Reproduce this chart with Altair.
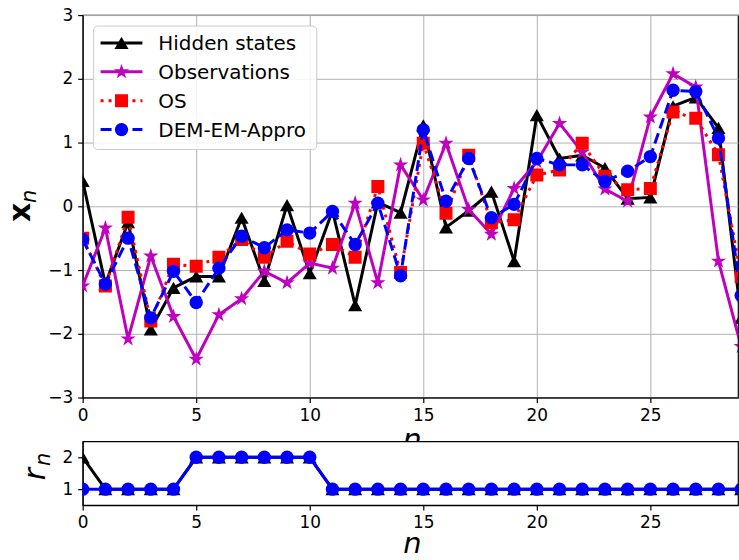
import altair as alt
import pandas as pd

# ---------------- data ----------------
n = list(range(30))
hidden = [0.40, -1.22, -0.25, -1.93, -1.28, -1.10, -1.10, -0.18, -1.17, 0.02,
          -1.05, -0.07, -1.55, 0.06, -0.10, 1.27, -0.33, -0.07, 0.23, -0.86,
          1.43, 0.75, 0.80, 0.60, 0.12, 0.14, 1.57, 1.71, 1.23, -1.75]
observations = [-1.25, -0.34, -2.08, -0.78, -1.73, -2.40, -1.70, -1.45, -1.02, -1.20,
                -0.89, -0.97, 0.05, -1.20, 0.65, 0.10, 0.99, -0.05, -0.44, 0.28,
                0.70, 1.30, 0.85, 0.27, 0.08, 1.40, 2.08, 1.87, -0.86, -2.20]
os_est = [-0.50, -1.25, -0.17, -1.80, -0.91, -0.94, -0.80, -0.52, -0.80, -0.55,
          -0.75, -0.60, -0.80, 0.31, -1.04, 0.99, -0.11, 0.80, -0.26, -0.21,
          0.49, 0.57, 0.99, 0.47, 0.26, 0.28, 1.48, 1.38, 0.81, -1.10]
dem_est = [-0.52, -1.22, -0.50, -1.75, -1.02, -1.51, -0.97, -0.47, -0.65, -0.37,
           -0.42, -0.08, -0.60, 0.05, -1.09, 1.20, 0.08, 0.75, -0.18, 0.03,
           0.75, 0.65, 0.65, 0.39, 0.55, 0.78, 1.82, 1.80, 1.07, -1.40]
r_hidden = [2, 1, 1, 1, 1, 2, 2, 2, 2, 2, 2, 1, 1, 1, 1,
            1, 1, 1, 1, 1, 1, 1, 1, 1, 1, 1, 1, 1, 1, 1]
r_dem = [1, 1, 1, 1, 1, 2, 2, 2, 2, 2, 2, 1, 1, 1, 1,
         1, 1, 1, 1, 1, 1, 1, 1, 1, 1, 1, 1, 1, 1, 1]
x_ticks = [0, 5, 10, 15, 20, 25]
y_ticks = [-3, -2, -1, 0, 1, 2, 3]
r_ticks = [1, 2]
legend_labels = ["Hidden states", "Observations", "OS", "DEM-EM-Appro"]

# ---------------- styles ----------------
FONT = "DejaVu Sans"
STAR = ("M0,-1L0.2245,-0.309L0.9511,-0.309L0.3633,0.118L0.5878,0.809L0,0.382"
        "L-0.5878,0.809L-0.3633,0.118L-0.9511,-0.309L-0.2245,-0.309Z")
XMAX = 28.86
W = 658
H_TOP = 384
H_BOT = 64

styles = [
    dict(color="#000000", shape="triangle-up", size=200, dash=None),
    dict(color="#bf00bf", shape=STAR, size=260, dash=None),
    dict(color="#ff0000", shape="square", size=170, dash=[3, 5]),
    dict(color="#0000ff", shape="circle", size=180, dash=[11, 5]),
]

x_scale = alt.Scale(domain=[0, XMAX], nice=False, zero=False)
y_scale = alt.Scale(domain=[-3, 3], nice=False, zero=False)
r_scale = alt.Scale(domain=[0.5, 2.5], nice=False, zero=False)

x_axis_top = alt.Axis(values=x_ticks, title="", grid=True)
y_axis_top = alt.Axis(values=y_ticks, title="", grid=True)
x_axis_bot = alt.Axis(values=x_ticks, title="", grid=False)
y_axis_bot = alt.Axis(values=r_ticks, title="", grid=False)

one_row = alt.Data(values=[{"a": 1}])


def series_layers(vals, st, yscale, xaxis, yaxis):
    df = pd.DataFrame({"n": n, "v": vals})
    base = alt.Chart(df)
    enc = dict(x=alt.X("n:Q", scale=x_scale, axis=xaxis),
               y=alt.Y("v:Q", scale=yscale, axis=yaxis))
    line_kw = dict(color=st["color"], strokeWidth=3, clip=True,
                   strokeCap="butt", strokeJoin="round")
    if st["dash"]:
        line_kw["strokeDash"] = st["dash"]
    line = base.mark_line(**line_kw).encode(**enc)
    pts = base.mark_point(shape=st["shape"], filled=True, size=st["size"],
                          color=st["color"], opacity=1, clip=True).encode(**enc)
    return [line, pts]


# ---------------- top panel ----------------
top_layers = []
for vals, st in zip([hidden, observations, os_est, dem_est], styles):
    top_layers += series_layers(vals, st, y_scale, x_axis_top, y_axis_top)

# legend box
top_layers.append(
    alt.Chart(one_row).mark_rect(fill="white", fillOpacity=0.85, stroke="#cccccc",
                                 strokeWidth=1, cornerRadius=4).encode(
        x=alt.value(11), x2=alt.value(235), y=alt.value(11), y2=alt.value(135))
)
leg_y = [28, 57, 86, 115]
for lab, st, yy in zip(legend_labels, styles, leg_y):
    rule_kw = dict(color=st["color"], strokeWidth=3, strokeCap="butt")
    if st["dash"]:
        rule_kw["strokeDash"] = st["dash"]
    top_layers.append(alt.Chart(one_row).mark_rule(**rule_kw).encode(
        x=alt.value(18), x2=alt.value(60), y=alt.value(yy)))
    top_layers.append(alt.Chart(one_row).mark_point(
        shape=st["shape"], filled=True, size=st["size"], color=st["color"],
        opacity=1).encode(x=alt.value(39), y=alt.value(yy)))
    top_layers.append(alt.Chart(one_row).mark_text(
        text=lab, align="left", baseline="middle", font=FONT, fontSize=20,
        color="black").encode(x=alt.value(76), y=alt.value(yy + 1)))

# y label  x_n (bold x, subscript n) rotated
top_layers.append(alt.Chart(one_row).mark_text(
    text="x", font=FONT, fontSize=30, fontWeight="bold", angle=270,
    align="center", baseline="middle", color="black").encode(
    x=alt.value(-62), y=alt.value(198)))
top_layers.append(alt.Chart(one_row).mark_text(
    text="n", font=FONT, fontSize=21, fontStyle="italic", angle=270,
    align="center", baseline="middle", color="black").encode(
    x=alt.value(-53), y=alt.value(182)))
# x label n (partly hidden under bottom panel)
top_layers.append(alt.Chart(one_row).mark_text(
    text="n", font=FONT, fontSize=30, fontStyle="italic",
    align="center", baseline="middle", color="black").encode(
    x=alt.value(331), y=alt.value(428)))
# invisible anchor fixing the page origin
top_layers.append(alt.Chart(one_row).mark_rect(opacity=0).encode(
    x=alt.value(-82), x2=alt.value(-81), y=alt.value(-13), y2=alt.value(-12)))

top = alt.layer(*top_layers).properties(width=W, height=H_TOP)

# ---------------- bottom panel ----------------
bot_layers = []
bot_layers += series_layers(r_hidden, dict(styles[0], dash=None), r_scale, x_axis_bot, y_axis_bot)
bot_layers += series_layers(r_dem, dict(styles[3], dash=None), r_scale, x_axis_bot, y_axis_bot)
bot_layers.append(alt.Chart(one_row).mark_text(
    text="r", font=FONT, fontSize=30, fontStyle="italic", angle=270,
    align="center", baseline="middle", color="black").encode(
    x=alt.value(-47), y=alt.value(33)))
bot_layers.append(alt.Chart(one_row).mark_text(
    text="n", font=FONT, fontSize=21, fontStyle="italic", angle=270,
    align="center", baseline="middle", color="black").encode(
    x=alt.value(-39), y=alt.value(18)))
bot_layers.append(alt.Chart(one_row).mark_text(
    text="n", font=FONT, fontSize=29, fontStyle="italic",
    align="center", baseline="middle", color="black").encode(
    x=alt.value(331), y=alt.value(103)))

bottom = alt.layer(*bot_layers).properties(width=W, height=H_BOT)

chart = alt.VConcatChart(vconcat=[top, bottom], spacing=44, bounds="flush").properties(
    padding=0
).configure_view(
    stroke="black", strokeWidth=1.2, fill="white"
).configure_axis(
    labelFont=FONT, labelFontSize=17, labelColor="black", labelPadding=5,
    labelFlush=False, labelOverlap=False,
    tickColor="black", tickSize=5, tickWidth=1.2,
    domainColor="black", domainWidth=1.2,
    gridColor="#b0b0b0", gridWidth=1, gridOpacity=1,
)

chart.save("out.html", embed_options={"renderer": "svg", "actions": False})
